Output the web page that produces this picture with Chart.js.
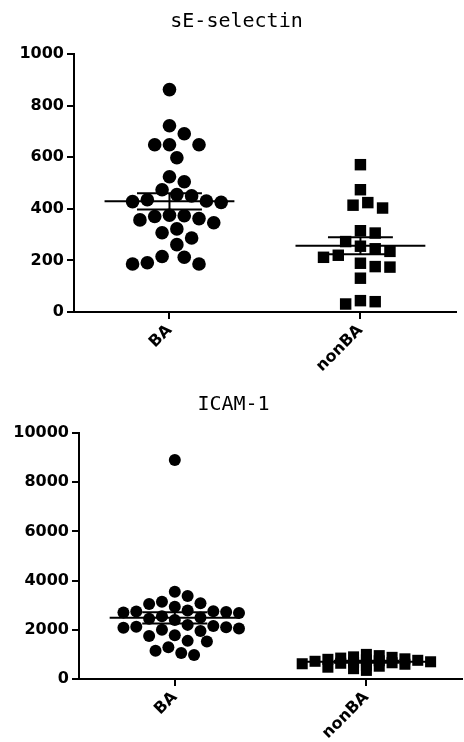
<!DOCTYPE html>
<html>
<head>
<meta charset="utf-8">
<script src="https://cdn.jsdelivr.net/npm/chart.js@4.4.1/dist/chart.umd.min.js"></script>
<style>
  body { margin: 0; background: #fff; overflow: hidden; width: 464px; height: 742px; position: relative; }
  canvas { position: absolute; left: 0; }
  #selectin { top: 0; }
  #icam { top: 380px; }
</style>
</head>
<body>
<canvas id="selectin" width="464" height="380"></canvas>
<canvas id="icam" width="470" height="362"></canvas>
<script>
// datos
const categories = ["BA", "nonBA"];
const selectinBA = [862, 722, 691, 648, 648, 648, 598, 524, 505, 474, 455, 450, 435, 430, 428, 425, 375, 373, 370, 362, 357, 346, 322, 307, 287, 261, 215, 212, 191, 186, 186];
const selectinNonBA = [571, 474, 424, 414, 403, 315, 306, 273, 255, 245, 235, 220, 212, 189, 176, 174, 131, 44, 40, 31];
const icamBA = [8900, 3550, 3370, 3140, 3080, 3050, 2940, 2780, 2750, 2740, 2720, 2700, 2680, 2550, 2500, 2450, 2400, 2200, 2150, 2120, 2100, 2080, 2050, 2000, 1950, 1780, 1750, 1550, 1520, 1290, 1150, 1060, 980];
const icamNonBA = [1000, 950, 900, 880, 850, 820, 800, 780, 760, 740, 720, 700, 680, 660, 640, 620, 600, 560, 520, 480, 420, 350];
const selectinTicks = [0, 200, 400, 600, 800, 1000];
const icamTicks = [0, 2000, 4000, 6000, 8000, 10000];

const pxPerX = 194; // ancho de cada categoria en px

// reparte los puntos a los lados (tipo beeswarm) para que no se encimen
function swarm(values, center, gap, pxPerY, yStretch) {
  var placed = [];
  var xs = new Array(values.length);
  var order = values.map((v, i) => i).sort((a, b) => values[b] - values[a]);
  order.forEach((i) => {
    var py = values[i] * pxPerY * yStretch;
    var off = 0;
    for (var step = 0; step < 60; step++) {
      var k = Math.ceil(step / 2) * (step % 2 ? 1 : -1);
      var cand = k * gap * 0.5;
      var ok = placed.every((p) => Math.hypot(p.x - cand, p.y - py) >= gap * 0.95);
      if (ok) { off = cand; break; }
    }
    placed.push({ x: off, y: py });
    xs[i] = { x: center + off / pxPerX, y: values[i] };
  });
  return xs;
}

function seg(points) {
  return {
    data: points,
    showLine: true,
    borderColor: "#000",
    borderWidth: 2,
    pointRadius: 0,
    clip: false,
    order: 0,
  };
}

// media +/- error estandar
function meanSem(values, center) {
  var n = values.length;
  var media = values.reduce((a, b) => a + b, 0) / n;
  var sd = Math.sqrt(values.reduce((a, b) => a + (b - media) * (b - media), 0) / (n - 1));
  var sem = sd / Math.sqrt(n);
  return [
    seg([{ x: center - 0.34, y: media }, { x: center + 0.34, y: media }]),
    seg([{ x: center - 0.17, y: media + sem }, { x: center + 0.17, y: media + sem }]),
    seg([{ x: center - 0.17, y: media - sem }, { x: center + 0.17, y: media - sem }]),
    seg([{ x: center, y: media - sem }, { x: center, y: media + sem }]),
  ];
}

function graficar(id, titulo, ba, nonBa, ticks, cfg) {
  var ymax = ticks[ticks.length - 1];
  var pxPerY = cfg.plotH / ymax;
  var datasets = [
    {
      data: swarm(ba, 1, cfg.gap, pxPerY, cfg.stretchBA),
      pointStyle: "circle",
      pointRadius: cfg.circle,
      backgroundColor: "#000",
      borderColor: "#000",
      borderWidth: 0,
      clip: false,
      order: 1,
    },
    {
      data: swarm(nonBa, 2, cfg.gap, pxPerY, cfg.stretchNon),
      pointStyle: "rect",
      pointRadius: cfg.square,
      backgroundColor: "#000",
      borderColor: "#000",
      borderWidth: 0,
      clip: false,
      order: 1,
    },
  ].concat(meanSem(ba, 1), meanSem(nonBa, 2));

  new Chart(document.getElementById(id), {
    type: "scatter",
    data: { datasets: datasets },
    options: {
      responsive: false,
      animation: false,
      layout: { padding: { left: cfg.padLeft, right: 3, top: 0, bottom: 0 } },
      plugins: {
        legend: { display: false },
        tooltip: { enabled: false },
        title: {
          display: true,
          text: titulo,
          color: "#000",
          font: { family: "DejaVu Sans Mono", size: 20, weight: "normal" },
          padding: { top: cfg.titleTop, bottom: cfg.titleBottom },
        },
      },
      scales: {
        x: {
          type: "linear",
          min: 0.5,
          max: 2.5,
          afterBuildTicks: (axis) => {
            axis.ticks = categories.map((c, i) => ({ value: i + 1 }));
          },
          afterFit: (scale) => { scale.height = cfg.xHeight; },
          border: { display: true, color: "#000", width: 2 },
          grid: { drawOnChartArea: false, drawTicks: true, tickLength: 7, color: "#000", lineWidth: 2 },
          ticks: {
            autoSkip: false,
            minRotation: 45,
            maxRotation: 45,
            padding: 2,
            color: "#000",
            font: { family: "DejaVu Sans", size: 16, weight: "bold" },
            callback: (v) => categories[v - 1],
          },
        },
        y: {
          min: 0,
          max: ymax,
          afterBuildTicks: (axis) => {
            axis.ticks = ticks.map((t) => ({ value: t }));
          },
          afterFit: (scale) => { scale.width = cfg.yWidth; },
          border: { display: true, color: "#000", width: 2 },
          grid: { drawOnChartArea: false, drawTicks: true, tickLength: 7, color: "#000", lineWidth: 2 },
          ticks: {
            padding: 3,
            color: "#000",
            font: { family: "DejaVu Sans", size: 16, weight: "bold" },
            callback: (v) => String(v),
          },
        },
      },
    },
  });
}

graficar("selectin", "sE-selectin", selectinBA, selectinNonBA, selectinTicks, {
  plotH: 258, gap: 15, stretchBA: 1, stretchNon: 1, circle: 6.8, square: 8.1,
  padLeft: 12, yWidth: 62, titleTop: 10, titleBottom: 20, xHeight: 68,
});

graficar("icam", "ICAM-1", icamBA, icamNonBA, icamTicks, {
  plotH: 246, gap: 13, stretchBA: 1, stretchNon: 2.5, circle: 6, square: 7.8,
  padLeft: 0, yWidth: 79, titleTop: 13, titleBottom: 16, xHeight: 63,
});
</script>
</body>
</html>
